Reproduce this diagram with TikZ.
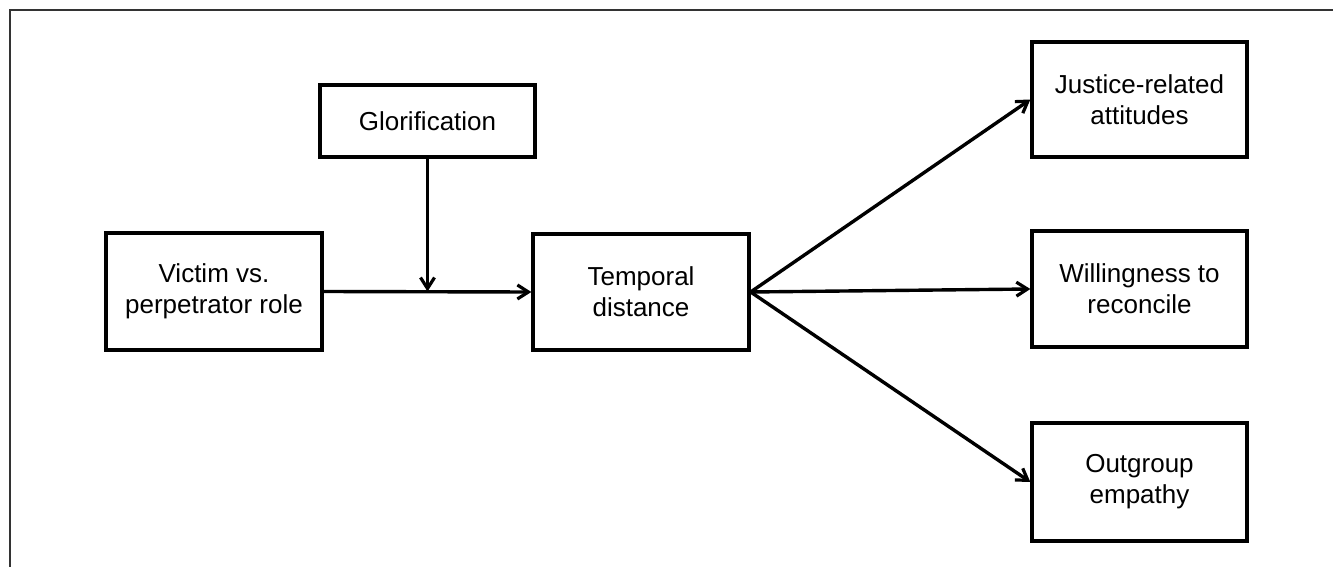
\documentclass[tikz,border=0pt]{standalone}
\usepackage{fontspec}
\setmainfont{Liberation Sans}
\usetikzlibrary{arrows.meta}
\begin{document}
\begin{tikzpicture}[x=1pt,y=-1pt,
  box/.style={draw, line width=3.3pt, inner sep=0pt, align=center, font=\fontsize{26}{31}\selectfont},
  conn/.style={line width=3.4pt, -{Straight Barb[length=11pt,width=14pt,line width=3.2pt]}}]
\useasboundingbox (0,0) rectangle (1333,567);
\fill[white] (0,0) rectangle (1333,567);
\draw[line width=2.2pt, black!80] (10,567) -- (10,10) -- (1333,10);
\node[box, minimum width=215pt, minimum height=72pt] (glor) at (427.5,121) {Glorification};
\node[box, minimum width=216pt, minimum height=117pt] (vic) at (214,291.5) {Victim vs.\\perpetrator role};
\node[box, minimum width=216pt, minimum height=116pt] (temp) at (641,292) {Temporal\\distance};
\node[box, minimum width=215pt, minimum height=115pt] (just) at (1139.5,99.5) {Justice-related\\attitudes};
\node[box, minimum width=215pt, minimum height=116pt] (will) at (1139.5,289) {Willingness to\\reconcile};
\node[box, minimum width=215pt, minimum height=118pt] (out) at (1139.5,482) {Outgroup\\empathy};
\coordinate (mod) at (glor.south |- vic.east);
\draw[conn] (vic.east) -- (temp.west);
\draw[conn] (glor.south) -- (mod);
\draw[conn] (temp.east) -- (just.west);
\draw[conn] (temp.east) -- (will.west);
\draw[conn] (temp.east) -- (out.west);
\end{tikzpicture}
\end{document}
